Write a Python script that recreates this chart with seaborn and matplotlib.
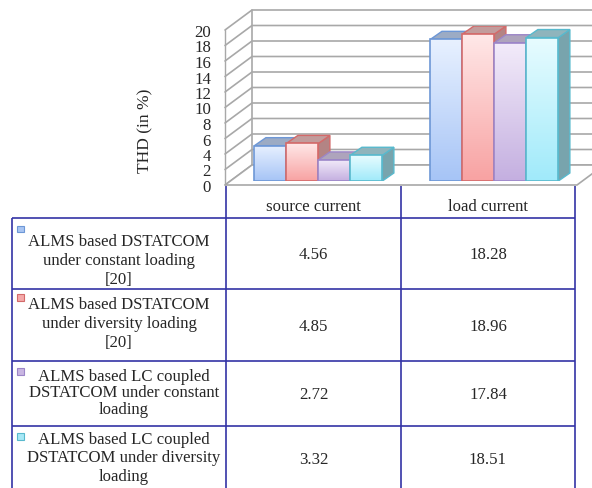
import numpy as np
import pandas as pd
import matplotlib
matplotlib.use("Agg")
import matplotlib.pyplot as plt
import seaborn as sns
from matplotlib.patches import Polygon, Rectangle
from matplotlib.colors import to_rgba

# ---- data -------------------------------------------------------------
categories = ["source current", "load current"]
series = [
    "ALMS based DSTATCOM\nunder constant loading\n[20]",
    "ALMS based DSTATCOM\nunder diversity loading\n[20]",
    "ALMS based LC coupled\nDSTATCOM under constant\nloading",
    "ALMS based LC coupled\nDSTATCOM under diversity\nloading",
]
source_thd = [4.56, 4.85, 2.72, 3.32]
load_thd = [18.28, 18.96, 17.84, 18.51]
value_labels = [["4.56", "18.28"], ["4.85", "18.96"], ["2.72", "17.84"], ["3.32", "18.51"]]
yticks = list(range(0, 21, 2))
ylabel = "THD (in %)"

# ---- styling ----------------------------------------------------------
sns.set_style("white")
plt.rcParams["font.family"] = ["Liberation Serif", "DejaVu Serif"]
FS = 12.1

grad_top = ["#e8f1ff", "#ffe8e8", "#f3ecfa", "#e8fcff"]
grad_bot = ["#a6c4f6", "#f8a2a2", "#c4afe0", "#a0eafa"]
edge_col = ["#6d97d6", "#d36a6a", "#9c86c8", "#58b9cd"]
top_col = ["#9cabc4", "#c29c9c", "#aea4bc", "#8fb4bc"]
side_col = ["#8599b8", "#b38484", "#9b8fb1", "#78a4ad"]
key_fill = ["#a9c5f2", "#f4a9a9", "#c9b6e2", "#a7e8f6"]
grid_col = "#a8a8a8"
table_col = "#3434a6"

W, H, DPI = 592, 489, 100
fig = plt.figure(figsize=(W / DPI, H / DPI), dpi=DPI)

# front plane of the 3-D box (pixels, origin top-left)
FX0, FX1, FY0, FY20 = 225, 577, 186, 31
DEPTH = (27.0, -20.0)          # front -> back wall offset
BAR_FRONT = 0.2                # bars' front face depth fraction
BAR_DEPTH = (11.5, -8.0)       # bar thickness offset

ux = (FX1 - FX0) / 2.0         # px per category unit
uy = (FY0 - FY20) / 20.0       # px per THD unit

ax_front = fig.add_axes([FX0 / W, 1 - FY0 / H, (FX1 - FX0) / W, (FY0 - FY20) / H])
bx0 = FX0 + BAR_FRONT * DEPTH[0]
by0 = FY0 + BAR_FRONT * DEPTH[1]
ax_bar = fig.add_axes([bx0 / W, 1 - by0 / H, (FX1 - FX0) / W, (FY0 - FY20) / H])
ax_tab = fig.add_axes([0, 0, 1, 1], zorder=-1)

for a in (ax_front, ax_bar):
    a.set_xlim(-0.5, 1.5)
    a.set_ylim(0, 20)
    a.patch.set_alpha(0)

# ---- box: walls, floor, gridlines ---------------------------------------
ddx = DEPTH[0] / ux
ddy = -DEPTH[1] / uy
floor = Polygon([(-0.5, 0), (1.5, 0), (1.5 + ddx, ddy), (-0.5 + ddx, ddy)],
                closed=True, facecolor="white", edgecolor=grid_col, lw=1.2,
                clip_on=False, zorder=1)
ax_front.add_patch(floor)
for t in yticks:
    ax_front.plot([-0.5, -0.5 + ddx, 1.5 + ddx], [t, t + ddy, t + ddy],
                  color=grid_col, lw=1.2, clip_on=False, zorder=0.5)
ax_front.plot([-0.5 + ddx] * 2, [ddy, 20 + ddy], color=grid_col, lw=1.2, clip_on=False, zorder=0.5)
ax_front.plot([-0.5, -0.5], [0, 20], color=grid_col, lw=1.0, clip_on=False, zorder=0.5)

ax_front.set_xticks([])
ax_front.set_yticks(yticks)
ax_front.set_yticklabels([str(t) for t in yticks], fontsize=FS)
ax_front.tick_params(axis="y", length=0, pad=10)
for s in ax_front.spines.values():
    s.set_visible(False)
ax_front.set_ylabel(ylabel, fontsize=FS + 0.4)
ax_front.yaxis.set_label_coords((153 - FX0) / (FX1 - FX0), (FY0 - 131) / (FY0 - FY20))

# ---- bars ---------------------------------------------------------------
rows = []
for cat, vals in zip(categories, [source_thd, load_thd]):
    for s, v in zip(series, vals):
        rows.append({"category": cat, "series": s, "THD": v})
df = pd.DataFrame(rows)

sns.barplot(data=df, x="category", y="THD", hue="series", order=categories,
            hue_order=series, palette=grad_bot, width=0.727, saturation=1,
            legend=False, ax=ax_bar, errorbar=None)

bdx = BAR_DEPTH[0] / ux
bdy = -BAR_DEPTH[1] / uy
for i, cont in enumerate(ax_bar.containers):
    c0 = np.array(to_rgba(grad_top[i]))
    c1 = np.array(to_rgba(grad_bot[i]))
    grad = np.linspace(c0, c1, 256).reshape(256, 1, 4)
    for p in cont.patches:
        x, w, h = p.get_x(), p.get_width(), p.get_height()
        z = 2 + 3 * i
        side = Polygon([(x + w, 0), (x + w + bdx, bdy), (x + w + bdx, h + bdy), (x + w, h)],
                       closed=True, facecolor=side_col[i], edgecolor=edge_col[i], lw=1.0, zorder=z)
        top = Polygon([(x, h), (x + w, h), (x + w + bdx, h + bdy), (x + bdx, h + bdy)],
                      closed=True, facecolor=top_col[i], edgecolor=edge_col[i], lw=1.0, zorder=z)
        ax_bar.add_patch(side)
        ax_bar.add_patch(top)
        p.set_facecolor("none")
        p.set_edgecolor(edge_col[i])
        p.set_linewidth(1.2)
        p.set_zorder(z + 1.5)
        im = ax_bar.imshow(grad, extent=[x, x + w, 0, h], origin="upper",
                           aspect="auto", zorder=z + 1, interpolation="bilinear")
        im.set_clip_path(p)
ax_bar.set_xlim(-0.5, 1.5)
ax_bar.set_ylim(0, 20)
ax_bar.axis("off")

# ---- data table ---------------------------------------------------------
ax_tab.set_xlim(0, W)
ax_tab.set_ylim(H, 0)
ax_tab.axis("off")

col_edges = [12, FX0 + 1, FX0 + ux, FX1 - 2]
row_edges = [219, 290, 362, 427, H + 5]
header_top = 187
lk = dict(color=table_col, lw=1.2, solid_capstyle="butt")
for cx in col_edges[1:]:
    ax_tab.plot([cx, cx], [header_top, H + 5], **lk)
ax_tab.plot([col_edges[0]] * 2, [row_edges[0], H + 5], **lk)
for ry in row_edges[:-1]:
    ax_tab.plot([col_edges[0], col_edges[-1]], [ry, ry], **lk)

for j, cat in enumerate(categories):
    ax_tab.text((col_edges[j + 1] + col_edges[j + 2]) / 2, 207, cat,
                ha="center", va="center", fontsize=FS)

line_y = [[242, 261, 280], [305, 324, 343], [377, 393, 410], [440, 458, 477]]
key_y = [229.5, 298, 372, 437]
text_cx = [119, 119, 124, 124]
val_y = [255, 327, 395, 460]
for i, s in enumerate(series):
    for k, line in enumerate(s.split("\n")):
        ax_tab.text(text_cx[i], line_y[i][k], line, ha="center", va="center", fontsize=FS)
    ax_tab.add_patch(Rectangle((17, key_y[i] - 3), 6.5, 6.5, facecolor=key_fill[i],
                               edgecolor=edge_col[i], lw=0.8))
    for j in range(2):
        ax_tab.text((col_edges[j + 1] + col_edges[j + 2]) / 2, val_y[i], value_labels[i][j],
                    ha="center", va="center", fontsize=FS)

fig.savefig("out.png", dpi=DPI)
